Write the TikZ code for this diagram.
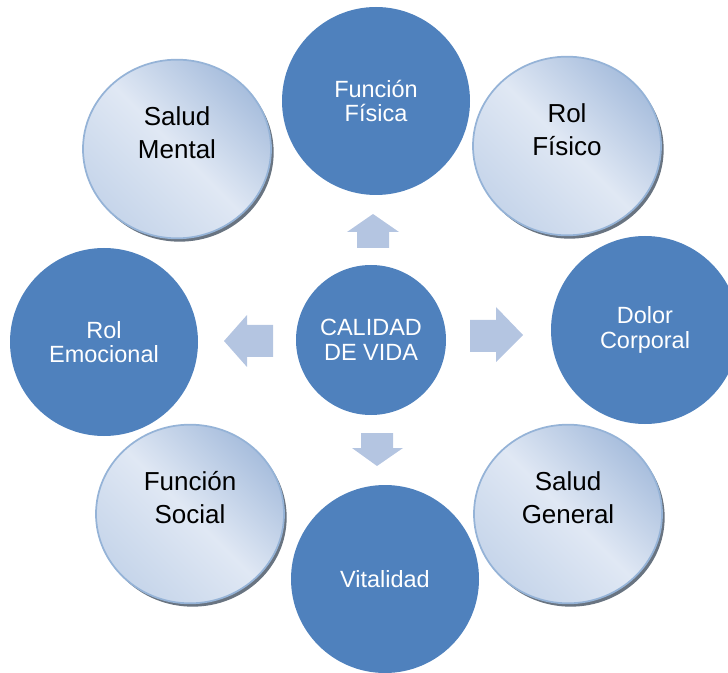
\documentclass[tikz,border=0pt]{standalone}
\usepackage{fontspec}
\setmainfont{Liberation Sans}
\usetikzlibrary{shapes.geometric,shadows}
\definecolor{balldark}{RGB}{79,129,189}
\definecolor{ballrim}{RGB}{149,179,215}
\definecolor{balltop}{RGB}{168,190,221}
\definecolor{ballmid}{RGB}{224,232,244}
\definecolor{ballbot}{RGB}{198,213,234}
\definecolor{arrowblue}{RGB}{180,197,225}

\tikzset{
  darkball/.style={circle, fill=balldark, text=white, minimum size=141pt, inner sep=0pt,
    align=center, font=\fontsize{17.6}{18.4}\selectfont},
  lightball/.style={ellipse, draw=ballrim, line width=1.3pt, minimum width=141pt,
    minimum height=134pt, top color=balltop, bottom color=ballbot, middle color=ballmid,
    shading angle=-45,
    drop shadow={shadow xshift=2pt, shadow yshift=-2.5pt, fill=black!55!ballrim, opacity=0.8}},
  balltext/.style={align=center, text=black, font=\fontsize{19.5}{24.8}\selectfont, yshift=12pt},
  blockarrow/.style={fill=arrowblue}
}

\begin{document}
\begin{tikzpicture}[x=0.75pt, y=-0.75pt]
    \useasboundingbox (0,0) rectangle (728,673);

    % Centre
    \node[darkball, minimum size=112.5pt] (vida) at (371,340) {CALIDAD\\DE VIDA};

    % Dark ring
    \node[darkball] (fisica) at (376,101) {Función\\Física};
    \node[darkball] (dolor) at (645,330) {Dolor\\Corporal};
    \node[darkball] (vital) at (385,579) {Vitalidad};
    \node[darkball] (emocional) at (104,342) {Rol\\Emocional};

    % Light ring
    \node[lightball, label={[balltext]center:Rol\\Físico}] (rolfis) at (567,146) {};
    \node[lightball, label={[balltext]center:Salud\\General}] (general) at (568,514) {};
    \node[lightball, label={[balltext]center:Función\\Social}] (social) at (190,514) {};
    \node[lightball, label={[balltext]center:Salud\\Mental}] (mental) at (177,149) {};

    % Block arrows
    \fill[blockarrow] (357,248) -- (357,232) -- (347,232) -- (373,214) -- (399,232) -- (389,232) -- (389,248) -- cycle;
    \fill[blockarrow] (470,320) -- (496,320) -- (496,307) -- (523,335) -- (496,362) -- (496,352) -- (470,352) -- cycle;
    \fill[blockarrow] (273,325) -- (247,325) -- (247,315) -- (224,341) -- (247,367) -- (247,357) -- (273,357) -- cycle;
    \fill[blockarrow] (361,433) -- (393,433) -- (393,448) -- (403,448) -- (377,466) -- (352,448) -- (361,448) -- cycle;
\end{tikzpicture}
\end{document}
